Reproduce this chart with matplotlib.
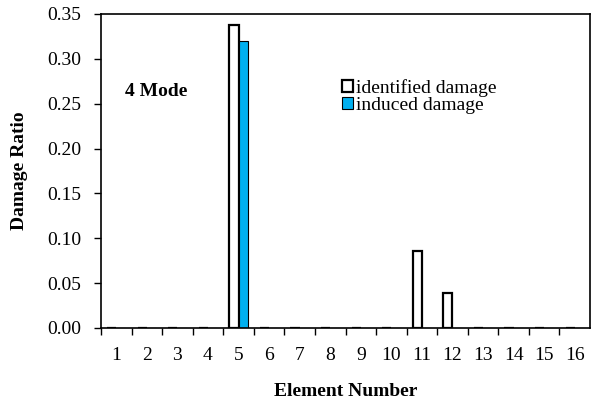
import matplotlib
matplotlib.use("Agg")
import matplotlib.pyplot as plt
import numpy as np

plt.rcParams['font.family'] = ['Liberation Serif', 'DejaVu Serif']

# datos
elementos = list(range(1, 17))
identificado = [0, 0, 0, 0, 0.338, 0, 0, 0, 0, 0, 0.086, 0.039, 0, 0, 0, 0]
inducido = [0, 0, 0, 0, 0.320, 0, 0, 0, 0, 0, 0, 0, 0, 0, 0, 0]

TAM = 14

fig = plt.figure(figsize=(5.92, 4.04), dpi=100)
ax = fig.add_axes([101 / 592, 1 - 328 / 404, 489 / 592, 314 / 404])

x = np.arange(len(elementos))
ancho = 0.3
ax.bar(x - ancho / 2, identificado, ancho, color="white", edgecolor="black",
       linewidth=1.6, label="identified damage")
ax.bar(x + ancho / 2, inducido, ancho, color="#00B0F0", edgecolor="black",
       linewidth=0.8, label="induced damage")

ax.set_xlim(-0.5, len(elementos) - 0.5)
ax.set_ylim(0, 0.35)
marcas_y = np.arange(0, 0.351, 0.05)
ax.set_yticks(marcas_y)
ax.set_yticklabels(["%.2f" % v for v in marcas_y], fontsize=TAM)

ax.set_xticks(x)
ax.set_xticklabels([str(e) for e in elementos], fontsize=TAM)
ax.tick_params(axis="x", length=0, pad=14)
ax.set_xticks(np.arange(-0.5, len(elementos) - 0.5), minor=True)
ax.tick_params(axis="x", which="minor", length=5, direction="out", width=1)
ax.tick_params(axis="y", length=5, direction="out", width=1, pad=9)

for s in ax.spines.values():
    s.set_linewidth(1.2)

ax.set_xlabel("Element Number", fontsize=TAM, fontweight="bold")
ax.xaxis.set_label_coords(0.5, -0.175)
ax.set_ylabel("Damage Ratio", fontsize=TAM, fontweight="bold")
ax.yaxis.set_label_coords(-0.15, 0.5)

ax.text(0.049, 0.752, "4 Mode", transform=ax.transAxes, fontsize=TAM,
        fontweight="bold", va="center")

ax.legend(loc="upper left", bbox_to_anchor=(0.473, 0.825), frameon=False,
          fontsize=TAM, handlelength=0.55, handleheight=0.55, handletextpad=0.15,
          labelspacing=0.0, borderpad=0)

fig.savefig("out.png", dpi=100)
